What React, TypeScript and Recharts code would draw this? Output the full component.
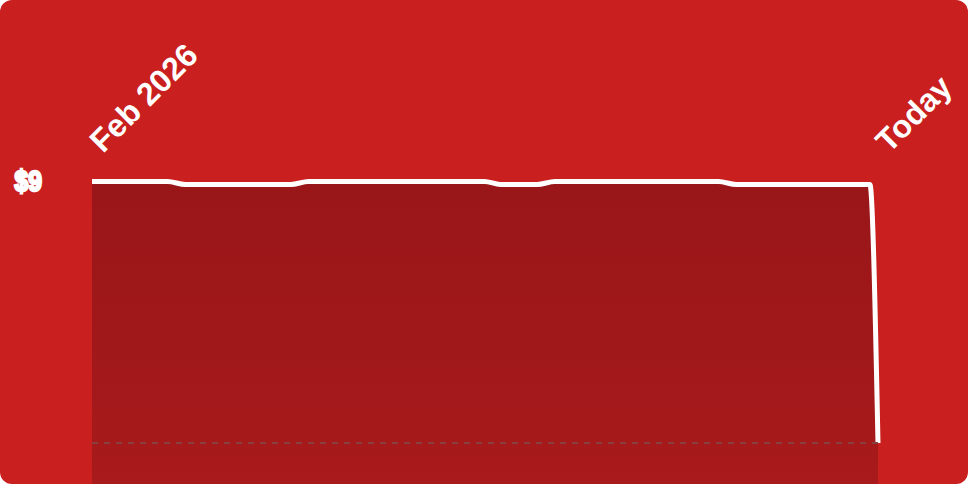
import React from "react";
import { ComposedChart, Area, XAxis, YAxis, ReferenceLine } from "recharts";

// days since 1 Feb 2026
const days = [0, 4.3, 5.3, 11.3, 12.3, 22.3, 23.2, 25.3, 26.3, 35.6, 36.6, 44.2, 44.66];
const prices = [9, 9, 8.9, 8.9, 9, 9, 8.9, 8.9, 9, 9, 8.9, 8.9, 0];
const xTicks = [0, 44.66];
const xTickLabels = ["Feb 2026", "Today"];
const yTicks = [9];
const yTickLabels = ["$9"];

const data = days.map((d, i) => ({ day: d, price: prices[i] }));

const XTick = (props: any) => {
  const { x, y, payload, index } = props;
  const label = xTickLabels[index] ?? String(payload.value);
  const tx = x + 11;
  const ty = y - 6;
  return (
    <text
      x={tx}
      y={ty}
      transform={`rotate(-45, ${tx}, ${ty})`}
      fill="#ffffff"
      fontSize={32}
      fontWeight={700}
      fontFamily="'Liberation Sans', Arial, sans-serif"
      textAnchor="start"
    >
      {label}
    </text>
  );
};

export default function App() {
  return (
    <div
      style={{
        position: "absolute",
        left: 0,
        top: 0,
        width: 968,
        height: 484,
        background: "#C91F1F",
        borderRadius: 12,
        overflow: "hidden",
      }}
    >
      <ComposedChart
        width={968}
        height={484}
        data={data}
        margin={{ top: 0, right: 90, bottom: 0, left: 0 }}
      >
        <defs>
          <linearGradient id="areaFill" x1="0" y1="0" x2="0" y2="1">
            <stop offset="0%" stopColor="#991619" />
            <stop offset="100%" stopColor="#A81A1B" />
          </linearGradient>
        </defs>
        <XAxis
          dataKey="day"
          type="number"
          orientation="top"
          domain={[0, 44.66]}
          ticks={xTicks}
          height={160}
          axisLine={false}
          tickLine={false}
          tickSize={0}
          tickMargin={0}
          interval={0}
          tick={<XTick />}
        />
        <YAxis
          type="number"
          domain={[-1.41, 9.74]}
          ticks={yTicks}
          width={92}
          axisLine={false}
          tickLine={false}
          tickSize={0}
          tickMargin={50}
          tickFormatter={(v: number) => yTickLabels[yTicks.indexOf(v)] ?? `$${v}`}
          tick={{
            fill: "#ffffff",
            stroke: "#ffffff",
            strokeWidth: 2.5,
            fontSize: 29,
            fontWeight: 700,
            fontFamily: "'Liberation Sans', Arial, sans-serif",
            dy: -1,
            style: { transform: "scaleX(0.85)", transformBox: "fill-box", transformOrigin: "right" },
          }}
        />
        <Area
          type="monotone"
          dataKey="price"
          stroke="#ffffff"
          strokeWidth={5}
          fill="url(#areaFill)"
          fillOpacity={1}
          baseValue="dataMin"
          isAnimationActive={false}
          dot={false}
          activeDot={false}
        />
        <ReferenceLine
          y={0}
          stroke="#864040"
          strokeWidth={2}
          strokeDasharray="6 6"
          ifOverflow="extendDomain"
        />
      </ComposedChart>
    </div>
  );
}
